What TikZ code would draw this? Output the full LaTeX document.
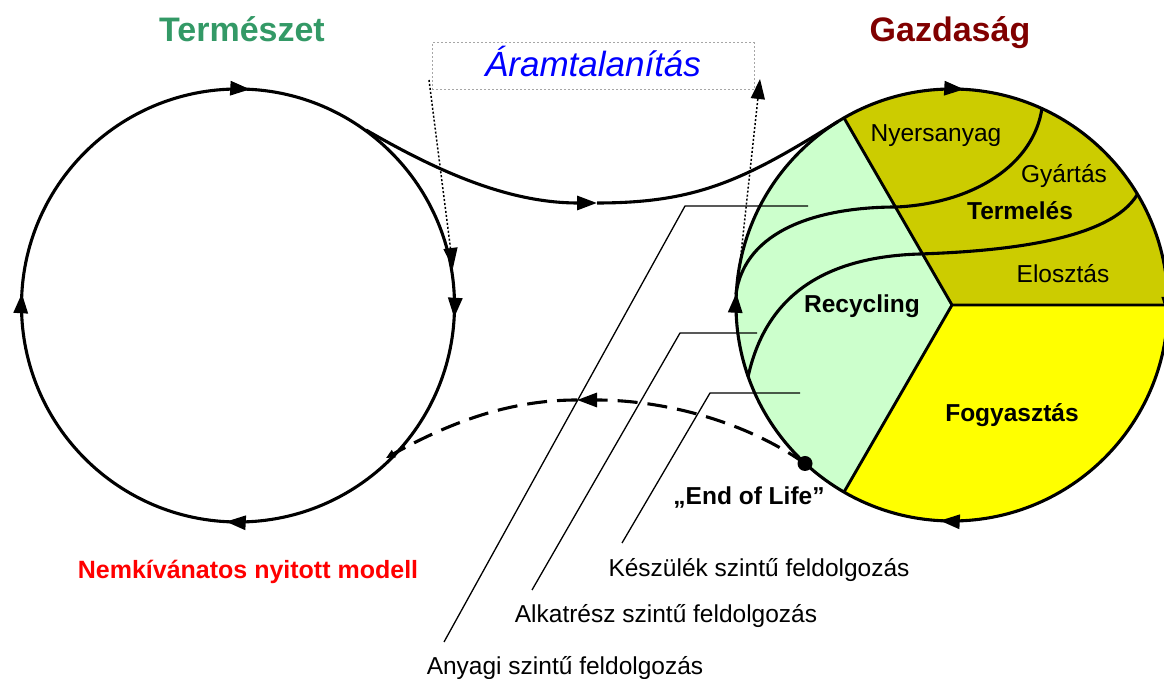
\documentclass[tikz,border=0pt]{standalone}
\usepackage{fontspec}
\setmainfont{Liberation Sans}
\usetikzlibrary{arrows.meta,decorations.markings}

\definecolor{natgreen}{RGB}{51,153,102}
\definecolor{ecored}{RGB}{128,0,0}
\definecolor{prodolive}{RGB}{204,204,0}
\definecolor{consyellow}{RGB}{255,255,0}
\definecolor{recgreen}{RGB}{204,255,204}

\tikzset{
  bigtip/.tip={Triangle[length=20pt,width=14pt]},
  smalltip/.tip={Triangle[length=9pt,width=8pt]},
  flow/.style={line width=3.1pt},
  divider/.style={line width=2.9pt},
  leader/.style={line width=1.3pt},
  dotline/.style={line width=1.5pt, dash pattern=on 2pt off 2pt},
  lifedash/.style={line width=3.1pt, dash pattern=on 20pt off 10pt},
  cyclearrows/.style={postaction={decorate}, decoration={markings,
      mark=at position 0.009 with {\arrow{bigtip}},
      mark=at position 0.259 with {\arrow{bigtip}},
      mark=at position 0.509 with {\arrow{bigtip}},
      mark=at position 0.759 with {\arrow{bigtip}}}},
  heading/.style={font=\fontsize{34}{40}\selectfont\bfseries, anchor=base, inner sep=0pt},
  lbl/.style={font=\fontsize{24.5}{29}\selectfont, anchor=base, inner sep=0pt},
  blbl/.style={font=\fontsize{24.5}{29}\selectfont\bfseries, anchor=base, inner sep=0pt},
}

\begin{document}
\begin{tikzpicture}[x=1pt,y=1pt]
\useasboundingbox (0,0) rectangle (1164,679);

% centres of the two cycles
\coordinate (nat) at (238,373.5);
\coordinate (eco) at (952,374);

% economy: three sectors
\fill[prodolive] (eco) -- ++(0:216) arc[start angle=0,end angle=120,radius=216] -- cycle;
\fill[recgreen] (eco) -- ++(120:216) arc[start angle=120,end angle=240,radius=216] -- cycle;
\fill[consyellow] (eco) -- ++(240:216) arc[start angle=240,end angle=360,radius=216] -- cycle;

% material return loops inside the economy
\coordinate (a0) at (1042,571); \coordinate (a1) at (897,472); \coordinate (a2) at (736,385);
\coordinate (b0) at (1137,484); \coordinate (b1) at (920,425); \coordinate (b2) at (748,302);
\draw[flow] (a0) .. controls (1034,515) and (975,476) .. (a1)
                 .. controls (820,472) and (745,450) .. (a2);
\draw[flow] (b0) .. controls (1110,440) and (1010,428) .. (b1)
                 .. controls (820,422) and (765,380) .. (b2);

% sector boundaries
\draw[divider] (eco) -- ++(0:216) (eco) -- ++(120:216) (eco) -- ++(240:216);

% leader lines of the recycling levels
\coordinate (r1) at (808,473); \coordinate (k1) at (685,473); \coordinate (e1) at (444,37);
\coordinate (r2) at (757,346); \coordinate (k2) at (680,346); \coordinate (e2) at (532,89);
\coordinate (r3) at (800,286); \coordinate (k3) at (710,286); \coordinate (e3) at (622,136);
\draw[leader] (r1) -- (k1) -- (e1);
\draw[leader] (r2) -- (k2) -- (e2);
\draw[leader] (r3) -- (k3) -- (e3);

% the two cycles
\draw[flow, cyclearrows] (nat) ++(90:216.5) arc[start angle=90,end angle=-270,radius=216.5];
\draw[flow, cyclearrows] (eco) ++(90:216) arc[start angle=90,end angle=-270,radius=216];

% flow from nature into the economy
\coordinate (p1) at (366,549);
\coordinate (mid) at (597,476);
\coordinate (p2) at (837.5,557.2);
\draw[flow, -{bigtip}] (p1) .. controls +(-30:80) and +(180:90) .. (mid);
\draw[flow] (mid) .. controls +(0:100) and +(212:110) .. (p2);

% end of life back to nature
\coordinate (eol) at (805,215.5);
\coordinate (peak) at (577,279);
\coordinate (natin) at (386,221);
\draw[lifedash, -{bigtip}] (eol) .. controls +(145:80) and +(0:80) .. (peak);
\draw[lifedash, -{smalltip}] (peak) .. controls +(180:70) and +(29:70) .. (natin);
\fill (eol) circle[radius=7.5];

% de-energising label and its arrows
\node[draw=black!35, line width=1pt, dash pattern=on 2pt off 2pt,
      minimum width=322pt, minimum height=47pt, inner sep=0pt] (keret) at (593,612.5) {};
\node[font=\fontsize{35}{42}\selectfont\itshape, text=blue, anchor=base, inner sep=0pt] (aram) at (593,602) {Áramtalanítás};
\coordinate (d1a) at (429,599);
\coordinate (d1b) at (453,411);
\coordinate (d2a) at (736,379);
\coordinate (d2b) at (760,600);
\draw[dotline, -{bigtip}] (d1a) -- (d1b);
\draw[dotline, -{bigtip}] (d2a) -- (d2b);

% headings
\node[heading, text=natgreen] (termeszet) at (242,637) {Természet};
\node[heading, text=ecored] (gazdasag) at (950,637) {Gazdaság};

% sector labels
\node[lbl] (nyers) at (936,537) {Nyersanyag};
\node[lbl] (gyartas) at (1064,496) {Gyártás};
\node[blbl] (termeles) at (1020,459) {Termelés};
\node[lbl] (elosztas) at (1063,396) {Elosztás};
\node[blbl] (recycling) at (862,366) {Recycling};
\node[blbl] (fogyasztas) at (1012,257) {Fogyasztás};
\node[blbl] (eollabel) at (749,174) {„End of Life”};

% recycling levels
\node[lbl] (keszulek) at (759,102) {Készülék szintű feldolgozás};
\node[lbl] (alkatresz) at (666,56) {Alkatrész szintű feldolgozás};
\node[lbl] (anyagi) at (565,4) {Anyagi szintű feldolgozás};

\node[font=\fontsize{25}{30}\selectfont\bfseries, text=red, anchor=base, inner sep=0pt] (nemkiv) at (248,100) {Nemkívánatos nyitott modell};
\end{tikzpicture}
\end{document}
